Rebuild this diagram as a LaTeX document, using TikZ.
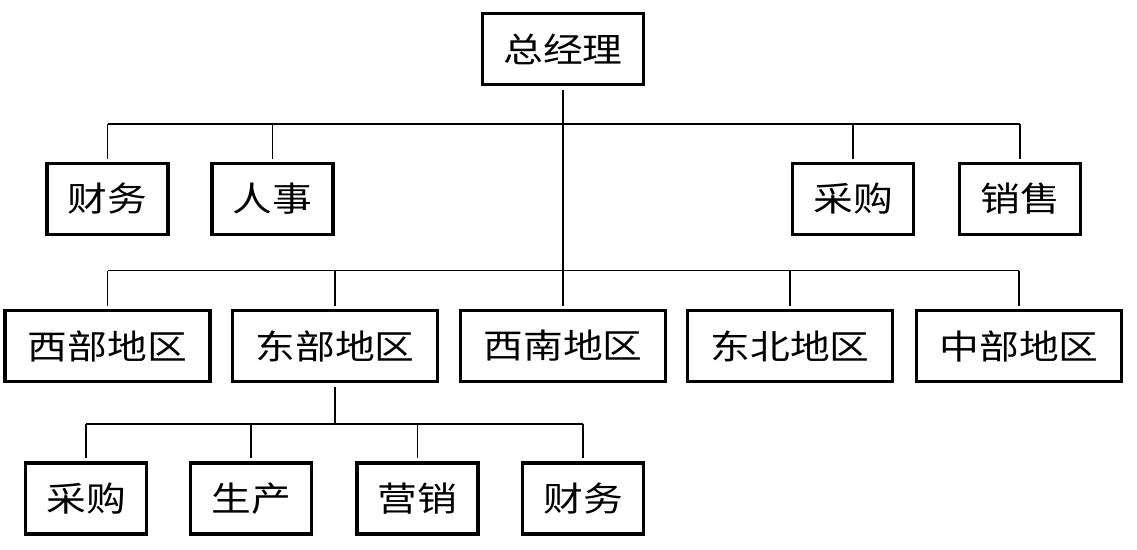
\documentclass[tikz,border=0pt]{standalone}
\usepackage{fontspec}
\newfontfamily\cjk[FakeStretch=1.17]{Noto Sans CJK SC}
\begin{document}
\begin{tikzpicture}[x=1pt,y=-1pt,
  box/.style={draw, line width=3.6pt, minimum height=71pt, inner xsep=0pt,
    font=\cjk\fontsize{34}{36}\selectfont, anchor=center},
  two/.style={box, minimum width=121pt},
  three/.style={box, minimum width=161pt},
  four/.style={box, minimum width=205pt},
  link/.style={line width=1.3pt},
  drop/.style={link, shorten >=3pt}]
\useasboundingbox (0,0) rectangle (1137,549);
% nodes
\node[three] (gm) at (563,49) {总经理};
\node[two] (cw) at (107.5,199) {财务};
\node[two] (rs) at (272.5,199) {人事};
\node[two] (cg) at (853,199) {采购};
\node[two] (xs) at (1020,199) {销售};
\node[four] (xb) at (107.5,346) {西部地区};
\node[four] (db) at (335,346) {东部地区};
\node[four] (xn) at (563,346) {西南地区};
\node[four] (dbei) at (790,346) {东北地区};
\node[four] (zb) at (1019,346) {中部地区};
\node[two] (cg2) at (86,498.5) {采购};
\node[two] (sc) at (251,498.5) {生产};
\node[two] (yx) at (417.5,498.5) {营销};
\node[two] (cw2) at (583,498.5) {财务};
% bus levels
\coordinate (b1) at (563,124);
\coordinate (b2) at (563,270.5);
\coordinate (b3) at (335,424);
% trunk
\draw[link, shorten <=4pt, shorten >=3pt] (gm.south) -- (xn.north);
% bus 1
\draw[link] (cw.north |- b1) -- (xs.north |- b1);
\foreach \n in {cw,rs,cg,xs} \draw[drop] (\n.north |- b1) -- (\n.north);
% bus 2
\draw[link] (xb.north |- b2) -- (zb.north |- b2);
\foreach \n in {xb,db,dbei,zb} \draw[drop] (\n.north |- b2) -- (\n.north);
% bus 3
\draw[link, shorten <=4pt] (db.south) -- (b3);
\draw[link] (cg2.north |- b3) -- (cw2.north |- b3);
\foreach \n in {cg2,sc,yx,cw2} \draw[drop] (\n.north |- b3) -- (\n.north);
\end{tikzpicture}
\end{document}
